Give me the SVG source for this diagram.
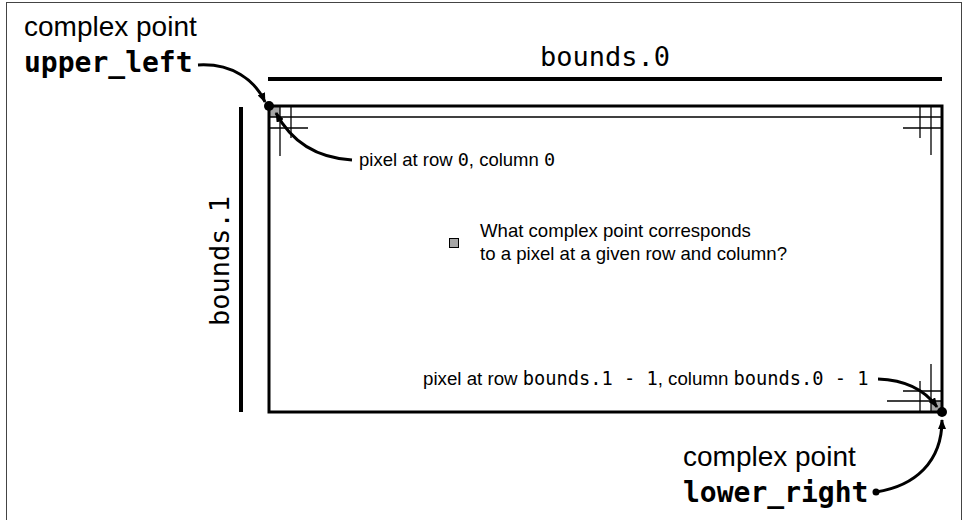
<svg xmlns="http://www.w3.org/2000/svg" width="963" height="520" viewBox="0 0 963 520">
<defs>
<marker id="ah" viewBox="0 0 10 8" refX="9" refY="4" markerWidth="10" markerHeight="8" markerUnits="userSpaceOnUse" orient="auto">
<path d="M0,0 L10,4 L0,8 Z" fill="#000"/>
</marker>
</defs>
<style>
.sans{font-family:"Liberation Sans",Arial,sans-serif;fill:#000}
.mono{font-family:"DejaVu Sans Mono","Liberation Mono",monospace;fill:#000}
.thin{stroke:#000;stroke-width:1.3;fill:none}
.thick{stroke:#000;stroke-width:4;fill:none}
.conn{stroke:#000;stroke-width:3;fill:none}
.px{fill:#a6a6a6;stroke:none}
</style>
<rect x="0" y="0" width="963" height="520" fill="#fff"/>
<rect x="6.5" y="2.5" width="955" height="530" fill="none" stroke="#444" stroke-width="1"/>

<g id="pixel-grid">
<rect class="px" x="269" y="106" width="11" height="11"/>
<rect class="px" x="931" y="401" width="11" height="11"/>
<line class="thin" x1="269" y1="117" x2="942" y2="117"/>
<line class="thin" x1="280" y1="106" x2="280" y2="156"/>
<line class="thin" x1="269" y1="128" x2="308" y2="128"/>
<line class="thin" x1="291" y1="106" x2="291" y2="138"/>
<line class="thin" x1="920" y1="106" x2="920" y2="138"/>
<line class="thin" x1="931" y1="106" x2="931" y2="155"/>
<line class="thin" x1="903" y1="128" x2="942" y2="128"/>
<line class="thin" x1="931" y1="364" x2="931" y2="412"/>
<line class="thin" x1="920" y1="381" x2="920" y2="412"/>
<line class="thin" x1="903" y1="391" x2="942" y2="391"/>
<line class="thin" x1="887" y1="401" x2="942" y2="401"/>
</g>

<g id="image-rect">
<rect x="269" y="106" width="673" height="306" fill="none" stroke="#000" stroke-width="3"/>
</g>

<g id="bounds0">
<line class="thick" x1="268" y1="79" x2="942" y2="79"/>
<text class="mono" x="605" y="66" font-size="27" text-anchor="middle">bounds.0</text>
</g>

<g id="bounds1">
<line class="thick" x1="241" y1="107" x2="241" y2="412"/>
<text class="mono" font-size="27" text-anchor="middle" transform="translate(229,261) rotate(-90)">bounds.1</text>
</g>

<g id="upper-left-label">
<text class="sans" x="24" y="36" font-size="28">complex point</text>
<text class="mono" x="24" y="72" font-size="28" font-weight="bold">upper_left</text>
</g>

<g id="lower-right-label">
<text class="sans" x="683" y="466" font-size="28">complex point</text>
<text class="mono" x="683" y="502" font-size="28" font-weight="bold">lower_right</text>
</g>

<g id="pixel00-label">
<text class="sans" x="359" y="166" font-size="18.5">pixel at row <tspan class="mono">0</tspan>, column <tspan class="mono">0</tspan></text>
</g>

<g id="pixel-last-label">
<text class="sans" x="423" y="385" font-size="18.7">pixel at row <tspan class="mono">bounds.1 - 1</tspan>, column <tspan class="mono">bounds.0 - 1</tspan></text>
</g>

<g id="question">
<rect x="449.5" y="238.5" width="9" height="9" fill="#a6a6a6" stroke="#000" stroke-width="1"/>
<text class="sans" x="480" y="237" font-size="18.6">What complex point corresponds</text>
<text class="sans" x="480" y="260" font-size="18.6">to a pixel at a given row and column?</text>
</g>

<g id="connectors">
<path class="conn" d="M198,65 C232,63 255,80 265,102" marker-end="url(#ah)"/>
<path class="conn" d="M352,160 C318,158 292,143 276,113" marker-end="url(#ah)"/>
<path class="conn" d="M878,379 C905,380 925,390 937,407" marker-end="url(#ah)"/>
<path class="conn" d="M876,492 C915,486 942,462 942,420" marker-end="url(#ah)"/>
<circle cx="876" cy="492" r="3.5" fill="#000"/>
<circle cx="269" cy="106" r="5" fill="#000"/>
<circle cx="942" cy="412" r="5" fill="#000"/>
</g>
</svg>
